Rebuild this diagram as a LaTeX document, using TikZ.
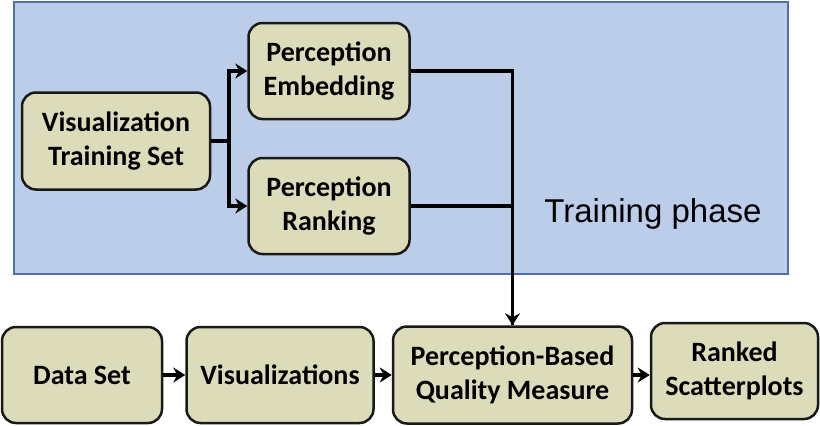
\documentclass[tikz,border=0pt]{standalone}
\usepackage{fontspec}
\setmainfont{Carlito}
\newfontfamily\phasefont{Liberation Sans}
\usetikzlibrary{arrows.meta}
\definecolor{phaseblue}{RGB}{187,205,232}
\definecolor{phaseedge}{RGB}{80,110,170}
\definecolor{boxtan}{RGB}{221,220,186}
\begin{document}
\begin{tikzpicture}[
  x=1pt, y=-1pt,
  box/.style={draw=black!90, line width=2.5pt, rounded corners=14pt, fill=boxtan, align=center,
    inner sep=0pt, font=\fontsize{28}{34}\selectfont\bfseries},
  arrow/.style={-{Stealth[length=12pt, width=15pt, inset=4pt]}, line width=3.5pt},
  link/.style={line width=3.5pt}
]
\useasboundingbox (0,0) rectangle (820,426);

% Training phase panel
\filldraw[fill=phaseblue, draw=phaseedge, line width=1.5pt] (14,2) rectangle (788,274);
\node[font=\phasefont\fontsize{33}{38}\selectfont] (phase) at (653,214) {Training phase};

% Training nodes
\node[box, minimum width=188pt, minimum height=97pt] (vts) at (116,141) {Visualization\\Training Set};
\node[box, minimum width=161pt, minimum height=96pt] (emb) at (329,71) {Perception\\Embedding};
\node[box, minimum width=161pt, minimum height=96pt] (rank) at (329,206) {Perception\\Ranking};

% Pipeline nodes
\node[box, minimum width=160pt, minimum height=96pt] (data) at (82,375) {Data Set};
\node[box, minimum width=187pt, minimum height=96pt] (vis) at (280,375) {Visualizations};
\node[box, minimum width=239pt, minimum height=97pt] (qm) at (512.5,375) {Perception-Based\\Quality Measure};
\node[box, minimum width=167pt, minimum height=96pt] (ranked) at (734.5,371) {Ranked\\Scatterplots};

% Split from training set
\coordinate (split) at (229,141);
\draw[link] (vts.east) -- (split);
\draw[arrow] (split) |- (emb.west);
\draw[arrow] (split) |- (rank.west);

% Merge into quality measure
\draw[link] (rank.east) -| (qm.north);
\draw[arrow] (emb.east) -| (qm.north);

% Pipeline arrows
\draw[arrow] (data) -- (vis);
\draw[arrow] (vis) -- (qm);
\draw[arrow] (qm) -- (qm.east -| ranked.west);
\end{tikzpicture}
\end{document}
